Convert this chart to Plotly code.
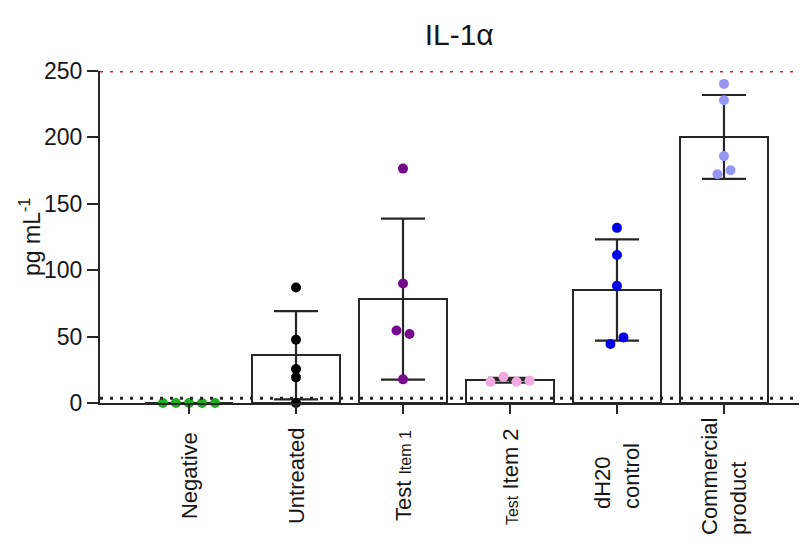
import numpy as np
import plotly.graph_objects as go

# ---------------- data ----------------
categories = ["Negative", "Untreated", "Test Item 1", "Test Item 2",
              "dH20 control", "Commercial product"]
tick_labels = [
    "Negative",
    "Untreated",
    "Test <span style='font-size:16px'>Item 1</span>",
    "<span style='font-size:16px'>Test</span> Item 2",
    "dH20<br>control",
    "Commercial<br>product",
]
negative = [0, 0, 0, 0, 0]
untreated = [87.0, 47.6, 25.6, 19.3, 0.0]
test_item_1 = [176.5, 90.0, 54.6, 51.9, 17.8]
test_item_2 = [16.0, 19.8, 16.0, 16.8]
dh20_control = [131.9, 111.4, 88.3, 44.4, 49.4]
commercial = [240.3, 228.0, 185.9, 172.3, 175.3]
series = [negative, untreated, test_item_1, test_item_2, dh20_control, commercial]

upper_limit = 250
lower_limit = 3.5
y_ticks = [0, 50, 100, 150, 200, 250]

point_colors = ["#1fae1f", "#000000", "#760a8c", "#f2a9e2", "#0000e8", "#9696f2"]

# ---------------- helpers ----------------
FONT = "Liberation Sans, Arial, sans-serif"
TXT = "#161616"
AX = "#262626"
spacing = 0.122      # horizontal spacing of overlapping points (category units)
threshold = 5.5      # vertical closeness (data units) that triggers spreading


def swarm_offsets(vals):
    vals = list(vals)
    n = len(vals)
    offs = [0.0] * n
    used = [False] * n
    for i in range(n):
        if used[i]:
            continue
        cluster = [i]
        used[i] = True
        for j in range(i + 1, n):
            if not used[j] and any(abs(vals[j] - vals[k]) < threshold for k in cluster):
                cluster.append(j)
                used[j] = True
        m = len(cluster)
        for r, idx in enumerate(cluster):
            offs[idx] = (r - (m - 1) / 2) * spacing
    return offs


means = [float(np.mean(s)) for s in series]
sds = [float(np.std(s, ddof=1)) for s in series]
xs = list(range(len(categories)))

fig = go.Figure()

fig.add_trace(go.Bar(
    x=xs, y=means, width=0.82,
    marker=dict(color="white", line=dict(color=AX, width=2)),
    error_y=dict(type="data", array=sds, visible=True, color=AX,
                 thickness=2.2, width=22),
    showlegend=False, hoverinfo="skip",
))

for i, vals in enumerate(series):
    offs = swarm_offsets(vals)
    fig.add_trace(go.Scatter(
        x=[i + o for o in offs], y=vals, mode="markers",
        marker=dict(color=point_colors[i], size=10, line=dict(width=0)),
        cliponaxis=False, showlegend=False,
    ))

# reference lines
fig.add_shape(type="line", xref="paper", x0=0, x1=1, yref="y",
              y0=upper_limit, y1=upper_limit, layer="above",
              line=dict(color="#c42a24", width=3, dash="3px,7px"))
fig.add_shape(type="line", xref="paper", x0=0, x1=1, yref="y",
              y0=lower_limit, y1=lower_limit, layer="above",
              line=dict(color=AX, width=3, dash="3px,7px"))

# category labels (rotated, centred)
for i, lab in enumerate(tick_labels):
    fig.add_annotation(
        x=i, xref="x", y=-0.22, yref="paper", text=lab, textangle=-90,
        showarrow=False, xanchor="center", yanchor="middle", align="left",
        font=dict(family=FONT, size=22, color=TXT),
    )

# y-axis title
fig.add_annotation(
    x=0, xref="paper", xshift=-70, y=0.5, yref="paper",
    text="pg mL<sup>-1</sup>", textangle=-90, showarrow=False,
    xanchor="center", yanchor="middle",
    font=dict(family=FONT, size=23, color=TXT),
)

fig.update_layout(
    width=799, height=543,
    margin=dict(l=92, r=0, t=63, b=148),
    paper_bgcolor="white", plot_bgcolor="white",
    bargap=0,
    title=dict(text="IL-1α", x=0.508, xref="paper", xanchor="center",
               y=0.952, yref="container", yanchor="middle",
               font=dict(family=FONT, size=30, color=TXT)),
    font=dict(family=FONT, color=TXT),
)
fig.update_xaxes(
    range=[-0.832, 5.776], tickvals=xs, showticklabels=False,
    ticks="outside", ticklen=9, tickwidth=2, tickcolor=AX,
    showline=True, linecolor=AX, linewidth=2,
    showgrid=False, zeroline=False,
)
fig.update_yaxes(
    range=[0, 250], tickvals=y_ticks,
    ticks="outside", ticklen=11, tickwidth=2, tickcolor=AX,
    showline=True, linecolor=AX, linewidth=2,
    showgrid=False, zeroline=False,
    tickfont=dict(family=FONT, size=23, color=TXT),
)

fig.write_html("out.html")
